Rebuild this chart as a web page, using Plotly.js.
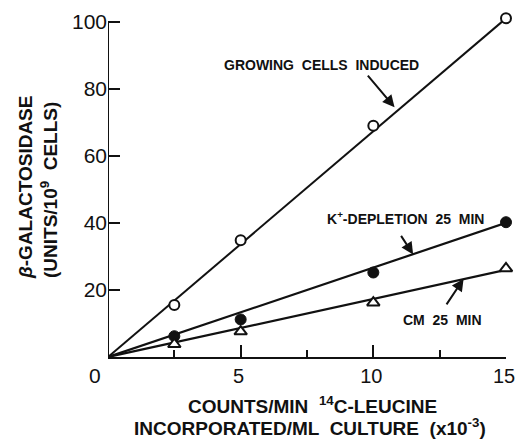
<!DOCTYPE html>
<html>
<head>
<meta charset="utf-8">
<script src="https://cdn.plot.ly/plotly-3.0.1.min.js"></script>
<style>html,body{margin:0;padding:0;background:#fff;}#chart{width:515px;height:439px;}</style>
</head>
<body>
<div id="chart"></div>
<script>
// Data
const xLeucine = [2.5, 5, 10, 15];
const growingInduced = [15.5, 34.8, 69, 101];
const kDepletion = [6.2, 11.2, 25.2, 40.2];
const cm25 = [3.8, 7.6, 16.2, 26.4];
// fitted lines (through origin)
const lineX = [0, 15];
const growingLine = [0, 101];
const kLine = [0, 40];
const cmLine = [0, 26];
const xTickVals = [5, 10, 15];
const xTickText = ['5', '10', '15'];
const xMinorVals = [2.5, 7.5, 12.5];
const yTickVals = [20, 40, 60, 80, 100];
const yTickText = ['20', '40', '60', '80', '100'];

const ink = '#111';
const FONT = 'Liberation Sans, Arial, sans-serif';

const traces = [
  {x: lineX, y: growingLine, mode: 'lines', line: {color: ink, width: 2}, hoverinfo: 'skip', cliponaxis: false},
  {x: lineX, y: kLine, mode: 'lines', line: {color: ink, width: 2.2}, hoverinfo: 'skip', cliponaxis: false},
  {x: lineX, y: cmLine, mode: 'lines', line: {color: ink, width: 2.2}, hoverinfo: 'skip', cliponaxis: false},
  {x: xLeucine, y: growingInduced, mode: 'markers', name: 'Growing cells induced',
   marker: {symbol: 'circle', size: 10, color: '#fff', line: {color: ink, width: 2}}, cliponaxis: false},
  {x: xLeucine, y: kDepletion, mode: 'markers', name: 'K+-depletion 25 min',
   marker: {symbol: 'circle', size: 11, color: ink, line: {color: ink, width: 1}}, cliponaxis: false},
  {x: xLeucine, y: cm25, mode: 'markers', name: 'CM 25 min',
   marker: {symbol: 'triangle-up', size: 11, color: '#fff', line: {color: ink, width: 2}}, cliponaxis: false}
];

const W = 515, H = 439, L = 108, R = 9, T = 15, B = 82;
const pw = W - L - R, ph = H - T - B;
function px(x) { return (x - L) / pw; }
function py(y) { return (H - B - y) / ph; }

const annFont = {family: FONT, size: 14, color: ink, weight: 'bold'};
const titleFont = {family: FONT, size: 19, color: ink, weight: 'bold'};

function label(xp, yp, text, font, extra) {
  return Object.assign({xref: 'paper', yref: 'paper', x: px(xp), y: py(yp), text: text,
    showarrow: false, xanchor: 'center', yanchor: 'middle', font: font}, extra || {});
}

const layout = {
  width: W, height: H,
  margin: {l: L, r: R, t: T, b: B},
  paper_bgcolor: '#fff', plot_bgcolor: '#fff',
  showlegend: false,
  font: {family: FONT, color: ink},
  xaxis: {
    range: [0, 15], showgrid: false, zeroline: false,
    showline: true, linecolor: ink, linewidth: 2,
    ticks: 'inside', ticklen: 12, tickwidth: 2, tickcolor: ink,
    tickmode: 'array', tickvals: xTickVals, ticktext: xTickText,
    ticklabeloverflow: 'allow', ticklabelshift: -2,
    tickfont: {family: FONT, size: 20, color: ink},
    minor: {tickmode: 'array', tickvals: xMinorVals, ticks: 'inside', ticklen: 7, tickwidth: 2, tickcolor: ink},
    fixedrange: true
  },
  yaxis: {
    range: [0, 102], showgrid: false, zeroline: false,
    showline: false,
    ticks: 'inside', ticklen: 12, tickwidth: 2, tickcolor: ink,
    tickmode: 'array', tickvals: yTickVals, ticktext: yTickText,
    ticklabeloverflow: 'allow',
    tickfont: {family: FONT, size: 21, color: ink},
    fixedrange: true
  },
  shapes: [
    {type: 'line', xref: 'x', yref: 'y', x0: 0, x1: 0, y0: 0, y1: 100, line: {color: ink, width: 2}, layer: 'above'}
  ],
  annotations: [
    label(95, 375, '0', {family: FONT, size: 21, color: ink}),
    // y title
    label(26, 188, '<i>β</i>-GALACTOSIDASE', titleFont, {textangle: -90}),
    label(49, 190, '(UNITS/10<sup>9</sup>  CELLS)', titleFont, {textangle: -90}),
    // x title
    label(312, 405, 'COUNTS/MIN  <sup>14</sup>C-LEUCINE', titleFont),
    label(310, 427, 'INCORPORATED/ML  CULTURE  (x10<sup>-3</sup>)', titleFont),
    // labels
    label(321, 65, 'GROWING  CELLS  INDUCED', annFont),
    label(405, 218, 'K<sup>+</sup>-DEPLETION  25  MIN', annFont),
    label(442, 320, 'CM  25  MIN', annFont),
    // arrows
    {x: 10.8, y: 74.5, xref: 'x', yref: 'y', ax: -28, ay: -33,
     text: '', showarrow: true, arrowhead: 2, arrowsize: 1.2, arrowwidth: 2, arrowcolor: ink},
    {x: 11.5, y: 30.6, xref: 'x', yref: 'y', ax: -13, ay: -20,
     text: '', showarrow: true, arrowhead: 2, arrowsize: 1.2, arrowwidth: 2, arrowcolor: ink},
    {x: 13.4, y: 23.3, xref: 'x', yref: 'y', ax: -18, ay: 27,
     text: '', showarrow: true, arrowhead: 2, arrowsize: 1.2, arrowwidth: 2, arrowcolor: ink}
  ]
};

Plotly.newPlot('chart', traces, layout, {staticPlot: true, displayModeBar: false});
</script>
</body>
</html>
